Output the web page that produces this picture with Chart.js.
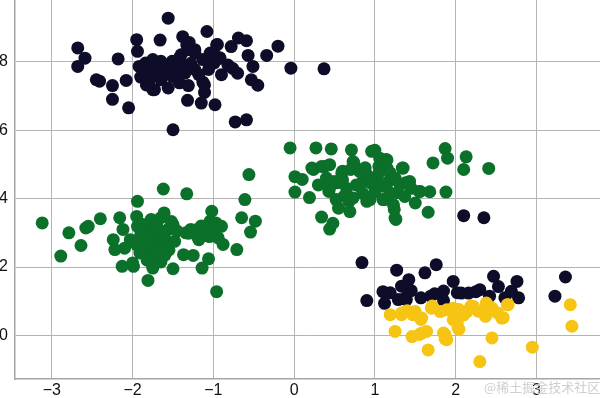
<!DOCTYPE html>
<html>
<head>
<meta charset="utf-8">
<script src="https://cdn.jsdelivr.net/npm/chart.js@4"></script>
<style>
  html, body { margin: 0; padding: 0; background: #fff; }
  #wrap { position: relative; width: 600px; height: 398px; overflow: hidden; }
  #mark { position: absolute; left: 484px; top: 377px; font: 13px "Noto Sans CJK SC"; color: #cfcfcf; white-space: nowrap; }
</style>
</head>
<body>
<div id="wrap">
  <canvas id="c" width="600" height="398" style="width:600px;height:398px"></canvas>
  <div id="mark">@稀土掘金技术社区</div>
</div>
<script>
const xTicks = [-3, -2, -1, 0, 1, 2, 3];
const yTicks = [0, 2, 4, 6, 8];

// top-left blob + bottom-right blob (same colour)
const navyPoints = [
  [-1.56,9.27],[-1.08,8.88],[-1.38,8.73],[-0.69,8.69],[-0.59,8.61],[-0.20,8.45],[-1.95,8.64],[-1.66,8.63],
  [-1.30,8.56],[-2.68,8.40],[-0.95,8.50],[-0.78,8.44],[-1.94,8.30],[-2.59,8.10],[-2.68,7.86],[-2.18,8.08],
  [-0.57,8.18],[-0.34,8.18],[-0.04,7.81],[0.37,7.79],[-2.45,7.47],[-2.41,7.43],[-2.25,7.30],[-2.25,6.90],
  [-2.05,6.65],[-2.08,7.45],[-0.73,6.24],[-0.59,6.30],[-1.50,6.01],[-1.32,6.87],[-1.15,6.79],[-0.98,6.74],
  [-0.45,7.31],[-0.53,7.47],[-0.70,7.66],[-0.90,7.62],[-0.51,7.86],[-1.11,7.10],[-1.11,7.32],[-1.13,7.40],
  [-1.75,7.18],[-1.56,7.23],[-1.80,7.43],[-1.42,7.38],[-1.23,8.35],[-1.00,8.25],[-0.92,8.10],[-1.33,8.49],
  [-0.96,8.49],[-1.73,7.18],[-1.83,7.32],[-1.31,7.30],[-1.84,7.96],[-1.77,7.77],[-1.70,7.96],[-1.61,7.86],
  [-1.51,8.01],[-1.42,8.11],[-1.32,8.35],[-1.23,8.25],[-1.13,8.06],[-1.04,8.25],[-0.99,7.96],[-0.92,8.11],
  [-1.06,7.77],[-1.23,7.77],[-1.35,7.67],[-1.51,7.57],[-1.65,7.47],[-1.84,7.67],[-1.92,7.86],[-1.65,8.01],
  [-1.56,7.77],[-1.46,7.77],[-1.75,8.06],[-1.38,7.90],[-1.28,7.95],[-1.18,7.62],[-1.60,7.65],[-1.90,7.55],
  [-1.70,7.62],[-1.45,7.50],[-1.40,8.20],[-0.82,7.90],[-0.76,7.80],
  [0.84,2.13],[0.90,1.02],[1.10,1.28],[1.12,0.94],[1.27,1.91],[1.42,1.63],[1.33,1.44],[1.45,1.31],
  [1.29,1.05],[1.39,1.05],[1.62,1.83],[1.76,2.07],[1.74,1.22],[1.85,1.02],[1.97,1.58],[2.02,1.25],
  [2.10,3.50],[2.35,3.44],[2.07,1.24],[2.16,1.24],[2.30,1.34],[2.47,1.73],[2.53,1.43],[2.61,1.10],
  [2.76,1.58],[2.78,1.10],[2.69,1.29],[3.23,1.15],[3.36,1.71],[1.19,1.25],[1.38,1.10],[1.57,1.10],
  [2.42,1.15],[1.85,1.30],[1.69,1.15],[2.25,1.28]
];

// left blob + middle blob
const greenPoints = [
  [-3.12,3.29],[-2.89,2.32],[-2.79,3.00],[-2.64,2.63],[-2.58,3.14],[-2.55,3.19],[-2.40,3.41],[-2.24,2.80],
  [-2.22,2.51],[-2.16,3.44],[-2.12,3.10],[-2.13,2.02],[-1.94,3.92],[-1.95,3.48],[-1.99,2.02],[-1.81,1.61],
  [-1.62,4.28],[-1.61,3.58],[-1.65,3.44],[-1.50,3.24],[-1.50,1.95],[-1.33,4.14],[-1.34,3.00],[-1.37,2.36],
  [-1.25,2.34],[-1.18,2.80],[-1.02,3.63],[-0.97,3.29],[-0.88,2.66],[-1.14,1.97],[-1.06,2.24],[-0.96,1.28],
  [-0.71,2.51],[-0.61,3.97],[-0.56,4.70],[-0.65,3.44],[-0.48,3.34],[-0.54,3.02],[-1.75,2.02],[-1.75,3.10],
  [-1.84,3.00],[-1.89,2.61],[-1.80,2.41],[-1.70,2.71],[-1.61,2.90],[-1.56,3.10],[-1.94,3.19],[-2.03,2.80],
  [-1.77,3.39],[-1.70,2.22],[-1.28,3.10],[-1.13,3.10],[-1.06,3.00],[-1.20,2.90],[-0.99,3.00],[-1.04,3.34],
  [-0.90,3.19],[-1.31,2.99],[-1.21,3.09],[-1.09,3.14],[-0.94,2.85],[-1.05,2.89],[-1.87,3.24],[-1.75,3.04],
  [-1.62,2.85],[-1.54,3.14],[-1.52,3.33],[-1.79,2.56],[-1.91,2.41],[-1.69,2.31],[-2.00,2.12],[-1.75,1.97],
  [-1.85,2.80],[-1.72,2.55],[-1.65,3.00],[-1.78,2.85],[-1.68,2.45],[-1.58,2.60],[-1.90,2.95],[-1.82,2.20],
  [-1.60,2.35],[-1.48,2.75],[-1.95,2.65],[-1.88,3.05],[-1.70,3.20],[-1.45,3.05],[-1.25,3.05],[-1.15,3.20],
  [-1.00,3.10],[-1.10,2.95],[-2.10,2.55],[-1.55,2.50],[-1.65,2.15],
  [-0.05,5.48],[0.27,5.48],[0.46,5.45],[0.71,5.42],[0.96,5.38],[1.00,5.41],[1.87,5.46],[1.90,5.18],
  [2.13,5.22],[2.10,4.85],[2.41,4.88],[1.72,5.04],[1.88,4.19],[1.68,4.20],[1.66,3.60],[1.50,3.87],
  [1.26,3.39],[1.24,3.68],[1.34,4.89],[1.14,5.14],[0.01,4.64],[0.10,4.56],[0.01,4.19],[0.19,4.03],
  [0.34,3.46],[0.44,3.11],[0.48,3.28],[0.38,4.94],[0.24,4.85],[0.60,4.80],[0.68,3.92],[0.90,3.92],
  [0.74,5.04],[1.10,4.36],[1.38,4.46],[1.55,4.21],[0.86,4.56],[0.53,4.46],[0.43,4.21],[0.62,4.07],
  [1.10,3.97],[1.19,4.75],[1.05,4.94],[0.81,4.36],[1.28,4.17],[0.22,4.89],[0.34,4.94],[0.44,4.99],
  [0.50,4.50],[0.59,4.75],[0.44,4.31],[0.52,3.97],[0.69,3.62],[0.73,4.02],[0.77,4.40],[0.73,5.08],
  [0.81,4.79],[1.06,5.18],[0.94,3.97],[1.02,4.60],[1.15,4.89],[1.19,4.16],[1.25,3.43],[0.55,3.72],
  [1.35,4.89],[1.15,5.13],[1.17,4.50],[1.31,4.40],[1.43,4.50],[1.56,4.21],[1.12,3.97],[1.23,3.82],
  [1.37,4.06],[0.90,4.70],[0.95,4.45],[1.00,4.20],[0.85,4.15],[0.65,4.30],[0.60,4.55],[1.25,4.60],
  [1.05,4.75],[0.40,4.60],[0.30,4.40],[0.88,4.90],[1.45,4.30],[0.70,4.85]
];

const yellowPoints = [
  [1.19,0.61],[1.33,0.61],[1.50,0.70],[1.58,0.51],[1.70,0.80],[1.81,0.70],[1.97,0.80],[1.25,0.12],
  [1.46,-0.03],[1.58,0.07],[1.64,0.12],[1.85,0.07],[1.87,-0.10],[1.66,-0.42],[1.97,0.46],[1.89,0.75],
  [2.01,0.56],[2.03,0.22],[1.87,0.02],[1.89,-0.12],[2.22,0.85],[2.38,0.95],[2.38,0.61],[2.57,0.51],
  [2.65,0.90],[2.45,-0.07],[2.30,-0.76],[2.95,-0.34],[3.42,0.90],[3.44,0.27],[2.14,0.70],[1.33,0.66],
  [1.47,0.61],[1.57,0.47],[1.71,0.86],[2.04,0.76],[2.19,0.86],[2.28,0.71],[2.52,0.66],[2.59,0.52],
  [2.37,0.56],[1.55,0.03],[2.04,0.18],[2.02,0.37],[2.64,0.90],[1.40,0.72],[2.10,0.60],[2.45,0.80]
];

const toXY = pts => pts.map(([x, y]) => ({ x, y }));
const minus = v => String(v).replace('-', '\u2212');
const tickFont = { family: 'Liberation Sans', size: 16 };

const ctx = document.getElementById('c').getContext('2d');
new Chart(ctx, {
  type: 'scatter',
  data: {
    datasets: [
      { data: toXY(navyPoints), backgroundColor: '#0d0d29', order: 2 },
      { data: toXY(greenPoints), backgroundColor: '#0b7029', order: 1 },
      { data: toXY(yellowPoints), backgroundColor: '#f6c413', order: 0 }
    ]
  },
  options: {
    responsive: false,
    animation: false,
    layout: { padding: 0, autoPadding: false },
    plugins: { legend: { display: false }, tooltip: { enabled: false } },
    elements: { point: { radius: 6.5, hoverRadius: 6.5, borderWidth: 0 } },
    scales: {
      x: {
        type: 'linear',
        min: -3.457,
        max: 3.788,
        afterBuildTicks: s => { s.ticks = xTicks.map(v => ({ value: v })); },
        afterFit: s => { s.height = 19; s.paddingLeft = 0; s.paddingRight = 0; },
        grid: { color: '#b4b4b4', lineWidth: 1, drawTicks: false },
        border: { color: '#a6a6a6', width: 1.5 },
        ticks: { padding: 2, color: '#111', font: tickFont, maxRotation: 0, callback: minus }
      },
      y: {
        type: 'linear',
        min: -1.27,
        max: 9.80,
        afterBuildTicks: s => { s.ticks = yTicks.map(v => ({ value: v })); },
        afterFit: s => { s.width = 15; s.paddingTop = 0; s.paddingBottom = 0; },
        grid: { color: '#b4b4b4', lineWidth: 1, drawTicks: false },
        border: { color: '#a6a6a6', width: 1.5 },
        ticks: { padding: 7, color: '#111', font: tickFont, callback: minus }
      }
    }
  }
});
</script>
</body>
</html>
